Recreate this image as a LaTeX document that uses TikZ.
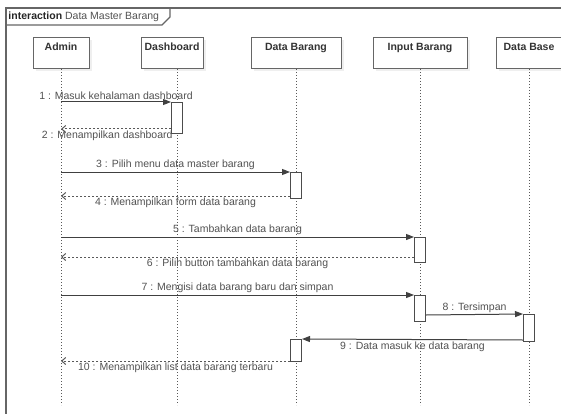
\documentclass[tikz,border=0pt]{standalone}
\usepackage{fontspec}
\setmainfont{Liberation Sans}
\usetikzlibrary{arrows.meta,shadows}

\begin{document}
\begin{tikzpicture}[x=1pt,y=-1pt,line width=1pt,
  font=\fontsize{10.5}{12}\selectfont,
  head/.style={draw=black!60, fill=white, anchor=north, minimum width=#1,
    inner xsep=0pt, inner ysep=2pt, text height=11pt, text depth=16pt,
    font=\fontsize{10.5}{12}\selectfont\bfseries, text=black!80,
    drop shadow={opacity=0.12, shadow xshift=3pt, shadow yshift=-3pt}},
  act/.style={draw=black!70, fill=white, anchor=north, minimum width=11pt,
    minimum height=#1, inner sep=0pt},
  lifeline/.style={draw=black!65, dash pattern=on 1pt off 2pt},
  call/.style={draw=black!75, -{Triangle[length=8pt,width=6pt]}},
  ret/.style={draw=black!65, dash pattern=on 2pt off 2pt,
    -{Straight Barb[length=4pt,width=7pt]}},
  msg/.style={text=black!68, inner sep=1.5pt}]

  \useasboundingbox[fill=white] (0,0) rectangle (561,414);

  % frame with its tab
  \draw[black!60,line width=1.2pt] (6,414) -- (6,8) -- (561,8);
  \draw[black!60,line width=1.2pt] (6,25) -- (162,25) -- (170,17) -- (170,8);
  \node[anchor=west, inner sep=0pt, text=black!68] (title) at (8,16.5)
    {\textcolor{black!85}{\bfseries interaction} Data Master Barang};

  % lifeline heads
  \node[head=56pt] (admin)  at (61,37)  {Admin};
  \node[head=62pt] (dash)   at (172,37) {Dashboard};
  \node[head=90pt] (barang) at (296,37) {Data Barang};
  \node[head=94pt] (input)  at (420,37) {Input Barang};
  \node[head=66pt] (base)   at (529,37) {Data Base};

  % lifelines
  \draw[lifeline] (admin.south) -- (admin.south |- 0,405);
  \draw[lifeline] ([xshift=5pt]dash.south) -- ([xshift=5pt]dash.south |- 0,405);
  \draw[lifeline] (barang.south) -- (barang.south |- 0,405);
  \draw[lifeline] (input.south) -- (input.south |- 0,405);
  \draw[lifeline] (base.south) -- (base.south |- 0,405);

  % activations
  \node[act=31pt] (a1) at (177,102) {};
  \node[act=26pt] (a2) at (296,172) {};
  \node[act=25pt] (a3) at (420,237) {};
  \node[act=26pt] (a4) at (420,295) {};
  \node[act=27pt] (a5) at (529,314) {};
  \node[act=22pt] (a6) at (296,339) {};

  % points where replies leave an activation
  \coordinate (r2)  at ([yshift=5pt]a1.south west);
  \coordinate (r4)  at ([yshift=3pt]a2.south west);
  \coordinate (r6)  at ([yshift=6pt]a3.south west);
  \coordinate (s8)  at ([yshift=7pt]a4.south east);
  \coordinate (s9)  at ([yshift=2pt]a5.south west);
  \coordinate (r10) at ([yshift=1pt]a6.south west);

  % messages
  \draw[call] (admin.south |- a1.north west) -- (a1.north west)
    node[msg,midway,above] (m1) {1 : Masuk kehalaman dashboard};
  \draw[ret] (r2) -- (admin.south |- r2)
    node[msg,pos=0.58,below] (m2) {2 : Menampilkan dashboard};
  \draw[call] (admin.south |- a2.north west) -- (a2.north west)
    node[msg,midway,above] (m3) {3 : Pilih menu data master barang};
  \draw[ret] (r4) -- (admin.south |- r4)
    node[msg,midway,below] (m4) {4 : Menampilkan form data barang};
  \draw[call] (admin.south |- a3.north west) -- (a3.north west)
    node[msg,midway,above] (m5) {5 : Tambahkan data barang};
  \draw[ret] (r6) -- (admin.south |- r6)
    node[msg,midway,below] (m6) {6 : Pilih button tambahkan data barang};
  \draw[call] (admin.south |- a4.north west) -- (a4.north west)
    node[msg,midway,above] (m7) {7 : Mengisi data barang baru dan simpan};
  \draw[call] (s8) -- (a5.north west)
    node[msg,midway,above] (m8) {8 : Tersimpan};
  \draw[call] (s9) -- (a6.north east)
    node[msg,midway,below] (m9) {9 : Data masuk ke data barang};
  \draw[ret] (r10) -- (admin.south |- r10)
    node[msg,midway,below] (m10) {10 : Menampilkan list data barang terbaru};
\end{tikzpicture}
\end{document}
